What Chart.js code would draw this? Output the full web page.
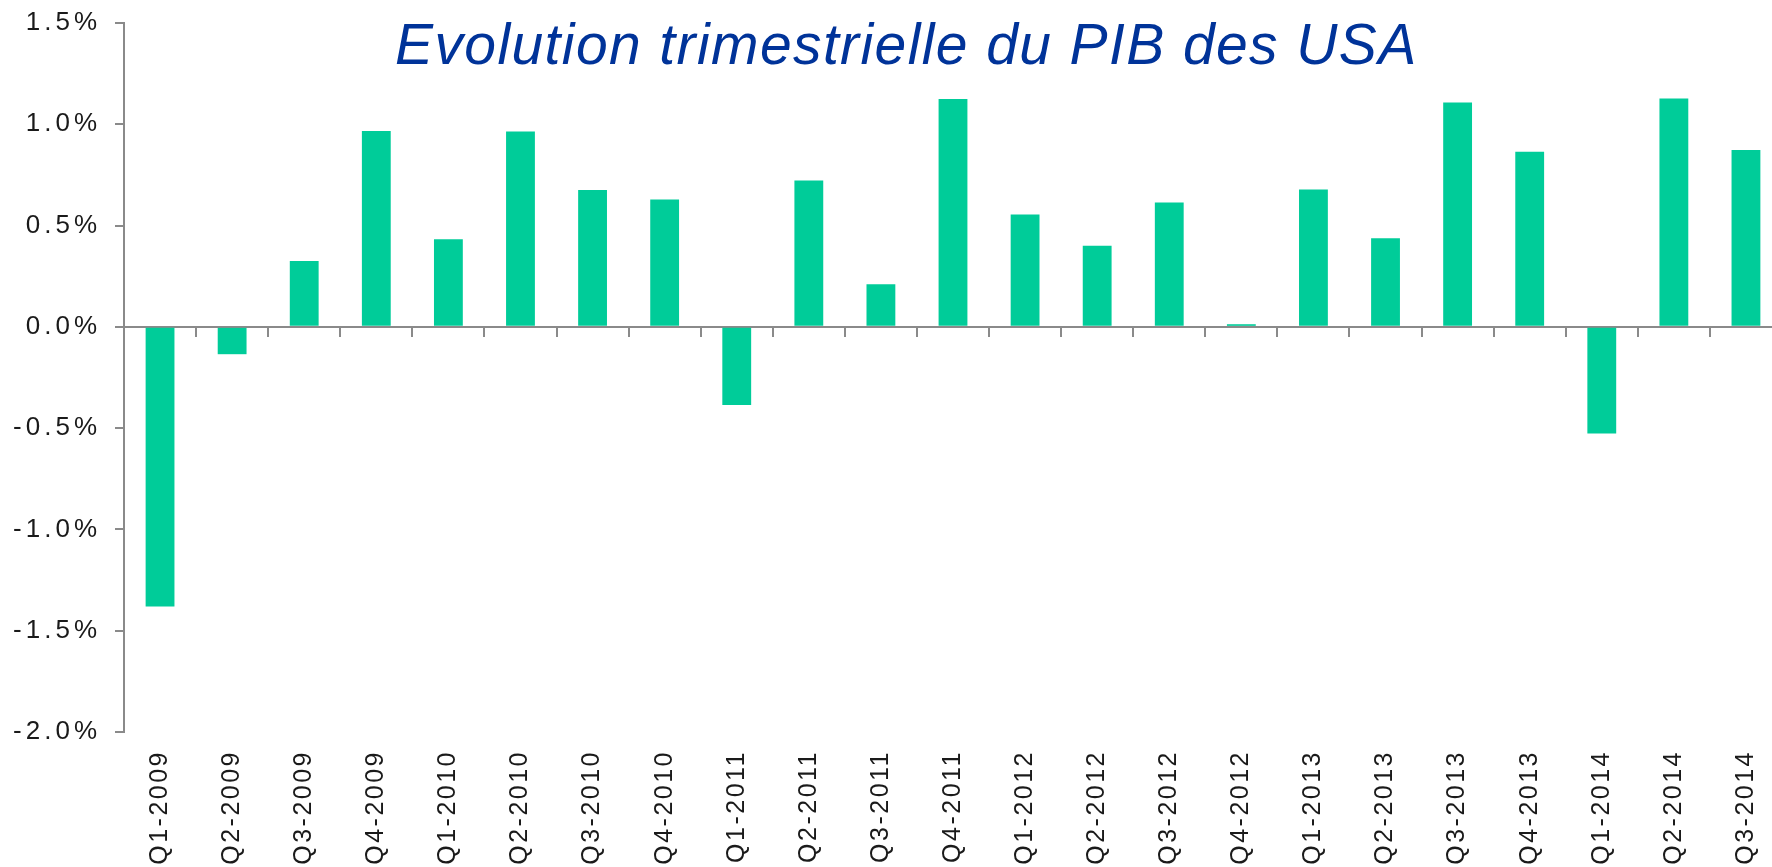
<!DOCTYPE html>
<html>
<head>
<meta charset="utf-8">
<script src="https://cdn.jsdelivr.net/npm/chart.js@4/dist/chart.umd.min.js"></script>
<style>
  html, body { margin: 0; padding: 0; background: #ffffff; overflow: hidden; }
  #wrap { position: absolute; left: 0; top: 0; width: 1812px; height: 867px; }
</style>
</head>
<body>
<div id="wrap"><canvas id="c" width="1812" height="867" style="width:1812px;height:867px"></canvas></div>
<script>
const titleText = 'Evolution trimestrielle du PIB des USA';

const categories = [
  'Q1-2009', 'Q2-2009', 'Q3-2009', 'Q4-2009',
  'Q1-2010', 'Q2-2010', 'Q3-2010', 'Q4-2010',
  'Q1-2011', 'Q2-2011', 'Q3-2011', 'Q4-2011',
  'Q1-2012', 'Q2-2012', 'Q3-2012', 'Q4-2012',
  'Q1-2013', 'Q2-2013', 'Q3-2013', 'Q4-2013',
  'Q1-2014', 'Q2-2014', 'Q3-2014'
];

// quarterly GDP change, in percent
const gdpChange = [
  -1.38, -0.135, 0.325, 0.967,
  0.432, 0.964, 0.675, 0.629,
  -0.386, 0.723, 0.21, 1.125,
  0.555, 0.40, 0.614, 0.013,
  0.678, 0.438, 1.108, 0.864,
  -0.527, 1.127, 0.873
];

const yMin = -2.0;
const yMax = 1.5;
const yStep = 0.5;

const axisGrey = '#8a8a8a';
const fontFamily = '"Liberation Sans", Arial, sans-serif';

const letterSpacingPlugin = {
  id: 'labelSpacing',
  beforeDraw(chart) {
    const spacing = { x: '2.5px', y: '4px' };
    Object.keys(spacing).forEach(id => {
      const s = chart.scales[id];
      if (s && !s._lsWrapped) {
        const orig = s.drawLabels;
        s.drawLabels = function (area) {
          this.ctx.save();
          this.ctx.letterSpacing = spacing[id];
          orig.call(this, area);
          this.ctx.restore();
        };
        s._lsWrapped = true;
      }
    });
  }
};

const titlePlugin = {
  id: 'freeTitle',
  afterDraw(chart) {
    const ctx = chart.ctx;
    ctx.save();
    ctx.font = 'italic 57px ' + fontFamily;
    ctx.letterSpacing = '1.4px';
    ctx.fillStyle = '#003399';
    ctx.textAlign = 'left';
    ctx.textBaseline = 'alphabetic';
    ctx.fillText(titleText, 395, 64);
    ctx.restore();
  }
};

new Chart(document.getElementById('c'), {
  type: 'bar',
  data: {
    labels: categories,
    datasets: [{
      data: gdpChange,
      backgroundColor: '#00CC99',
      borderWidth: 0,
      categoryPercentage: 1.0,
      barPercentage: 0.4
    }]
  },
  plugins: [letterSpacingPlugin, titlePlugin],
  options: {
    responsive: false,
    animation: false,
    devicePixelRatio: 1,
    layout: { padding: { top: 23, right: 30, left: 0, bottom: 0 } },
    plugins: {
      legend: { display: false },
      title: { display: false },
      tooltip: { enabled: false }
    },
    scales: {
      x: {
        type: 'category',
        position: 'bottom',
        offset: true,
        grid: { display: false, drawTicks: false, offset: true },
        border: { display: false },
        ticks: {
          autoSkip: false,
          minRotation: 90,
          maxRotation: 90,
          padding: 18,
          color: '#1a1a1a',
          font: { family: fontFamily, size: 25 }
        },
        afterFit(scale) { scale.height = 135; }
      },
      x2: {
        type: 'category',
        axis: 'x',
        position: { y: 0 },
        offset: true,
        z: 1,
        grid: {
          offset: true,
          drawOnChartArea: false,
          drawTicks: true,
          tickLength: 9,
          color: axisGrey,
          lineWidth: 2
        },
        border: { display: true, color: axisGrey, width: 2 },
        ticks: { display: false }
      },
      y: {
        type: 'linear',
        min: yMin,
        max: yMax,
        grid: {
          drawOnChartArea: false,
          drawTicks: true,
          tickLength: 9,
          color: axisGrey,
          lineWidth: 2
        },
        border: { display: true, color: axisGrey, width: 2 },
        ticks: {
          stepSize: yStep,
          padding: 14,
          color: '#1a1a1a',
          font: { family: fontFamily, size: 26 },
          callback: (v) => Number(v).toFixed(1) + '%'
        },
        afterFit(scale) {
          scale.width = 124;
          scale.paddingTop = 0;
          scale.paddingBottom = 0;
        }
      }
    }
  }
});
</script>
</body>
</html>
